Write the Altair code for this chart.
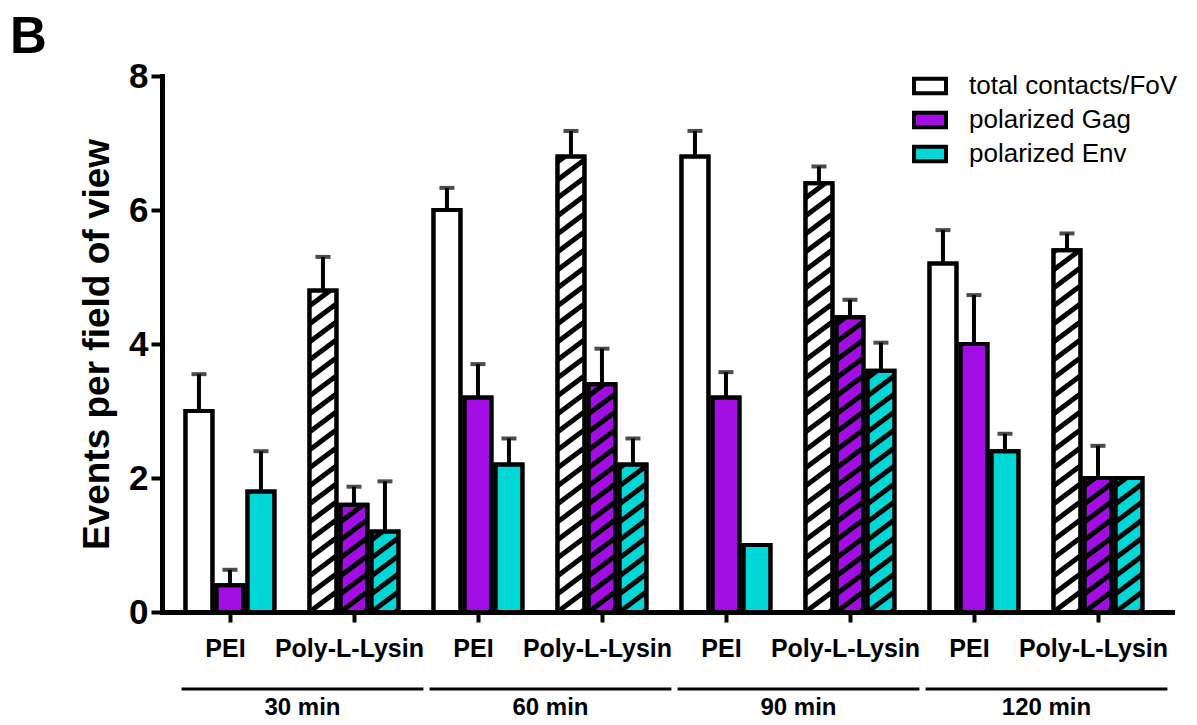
import altair as alt
import pandas as pd
import math

# ---------------- data ----------------
times = ["30 min", "60 min", "90 min", "120 min"]
coatings = ["PEI", "Poly-L-Lysin"]
series = ["total contacts/FoV", "polarized Gag", "polarized Env"]
colors = ["#FFFFFF", "#A10DE2", "#00D8D8"]

# categories in order: 30 PEI, 30 PLL, 60 PEI, 60 PLL, 90 PEI, 90 PLL, 120 PEI, 120 PLL
total_mean = [3.0, 4.8, 6.0, 6.8, 6.8, 6.4, 5.2, 5.4]
total_err = [0.55, 0.5, 0.33, 0.38, 0.38, 0.25, 0.5, 0.25]
gag_mean = [0.4, 1.6, 3.2, 3.4, 3.2, 4.4, 4.0, 2.0]
gag_err = [0.23, 0.27, 0.5, 0.53, 0.38, 0.26, 0.73, 0.48]
env_mean = [1.8, 1.2, 2.2, 2.2, 1.0, 3.6, 2.4, 2.0]
env_err = [0.6, 0.75, 0.39, 0.39, 0.0, 0.42, 0.26, 0.0]

# ---------------- layout ----------------
W, H = 1010, 536
XMIN, XMAX = -0.548, 7.597
YMAX = 8
PXX = W / (XMAX - XMIN)
PXY = H / YMAX
BAR_STEP = 31 / PXX
BAR_HALF = 13.5 / PXX
FONT = "Liberation Sans"

means = [total_mean, gag_mean, env_mean]
errs = [total_err, gag_err, env_err]
ncat = len(times) * len(coatings)

rows = []
for i in range(ncat):
    for j, s in enumerate(series):
        c = i + (j - 1) * BAR_STEP
        rows.append(dict(series=s, cat=i, center=c, x0=c - BAR_HALF, x1=c + BAR_HALF,
                         mean=means[j][i], err=errs[j][i], top=means[j][i] + errs[j][i],
                         base=0.0, hatched=(i % 2 == 1)))
bars = pd.DataFrame(rows)
errdf = bars[bars["err"] > 0]

# hatch segments derived from the hatched bars
P, SL = 18.0, 0.75
hrows = []
for r in rows:
    if not r["hatched"]:
        continue
    xl, xr = r["x0"] * PXX, r["x1"] * PXX
    hp = r["mean"] * PXY
    kmin = int(math.floor(-SL * (xr - xl) / P)) - 1
    kmax = int(math.ceil(hp / P)) + 1
    for k in range(kmin, kmax + 1):
        y0 = k * P
        xs = max(xl, xl + (0 - y0) / SL)
        xe = min(xr, xl + (hp - y0) / SL)
        if xe - xs > 0.5:
            hrows.append(dict(hx0=xs / PXX, hx1=xe / PXX,
                              hy0=(y0 + SL * (xs - xl)) / PXY,
                              hy1=(y0 + SL * (xe - xl)) / PXY))
hatch = pd.DataFrame(hrows)

groups = pd.DataFrame(dict(label=times,
                           gx0=[2 * g - 0.39 for g in range(len(times))],
                           gx1=[2 * g + 1.56 for g in range(len(times))]))
groups["gmid"] = (groups["gx0"] + groups["gx1"]) / 2

cat_labels = [coatings[i % 2] for i in range(ncat)]
label_expr = "[" + ",".join("'%s'" % c for c in cat_labels) + "][datum.value]"

xs_ = alt.Scale(domain=[XMIN, XMAX], nice=False, zero=False)
ys_ = alt.Scale(domain=[0, YMAX], nice=False)

xaxis = alt.Axis(values=list(range(ncat)), labelExpr=label_expr, title=None, grid=False,
                 labelFont=FONT, labelFontSize=25, labelFontWeight="bold",
                 labelPadding=14, labelOffset=-5, tickSize=10, tickWidth=4, domainWidth=5,
                 domainCap="square", labelFlush=False, labelOverlap=False, labelLimit=0)
yaxis = alt.Axis(values=[0, 2, 4, 6, 8], format="d", title="Events per field of view", grid=False,
                 titleFont=FONT, titleFontSize=37, titleFontWeight="bold", titlePadding=12,
                 labelFont=FONT, labelFontSize=35, labelFontWeight="bold", labelPadding=3,
                 tickSize=11, tickWidth=4, domainWidth=5, domainCap="square")

legend = alt.Legend(orient="none", legendX=750, legendY=-8, title=None,
                    symbolType="M-1,-0.45H1V0.45H-1Z", symbolSize=1024,
                    symbolStrokeColor="black", symbolStrokeWidth=4, symbolOpacity=1,
                    labelFont=FONT, labelFontSize=26, labelColor="black", labelLimit=0,
                    labelOffset=21, rowPadding=0, padding=0)

bar_layer = alt.Chart(bars).mark_rect(stroke="black", strokeWidth=4, opacity=1).encode(
    x=alt.X("x0:Q", scale=xs_, axis=xaxis),
    x2="x1:Q",
    y=alt.Y("mean:Q", scale=ys_, axis=yaxis),
    y2="base:Q",
    fill=alt.Fill("series:N", scale=alt.Scale(domain=series, range=colors), legend=legend),
)

hatch_layer = alt.Chart(hatch).mark_rule(color="black", strokeWidth=5, strokeCap="butt").encode(
    x=alt.X("hx0:Q", scale=xs_), x2="hx1:Q",
    y=alt.Y("hy0:Q", scale=ys_), y2="hy1:Q",
)

outline_layer = alt.Chart(bars).mark_rect(stroke="black", strokeWidth=4, fillOpacity=0).encode(
    x=alt.X("x0:Q", scale=xs_), x2="x1:Q",
    y=alt.Y("mean:Q", scale=ys_), y2="base:Q",
)

err_layer = alt.Chart(errdf).mark_rule(color="black", strokeWidth=4).encode(
    x=alt.X("center:Q", scale=xs_),
    y=alt.Y("mean:Q", scale=ys_), y2="top:Q",
)
cap_layer = alt.Chart(errdf).mark_tick(color="black", thickness=4, size=15, orient="horizontal").encode(
    x=alt.X("center:Q", scale=xs_),
    y=alt.Y("top:Q", scale=ys_),
)

group_lines = alt.Chart(groups).mark_rule(color="black", strokeWidth=3).encode(
    x=alt.X("gx0:Q", scale=xs_), x2="gx1:Q", y=alt.value(613),
)
group_text = alt.Chart(groups).mark_text(font=FONT, fontSize=24, fontWeight="bold",
                                          baseline="alphabetic", color="black").encode(
    x=alt.X("gmid:Q", scale=xs_), y=alt.value(639), text="label:N",
)

panel = alt.Chart(pd.DataFrame(dict(letter=["B"]))).mark_text(
    font=FONT, fontSize=51, fontWeight="bold", align="left", baseline="alphabetic", color="black"
).encode(x=alt.value(-152), y=alt.value(-23), text="letter:N")

chart = alt.layer(bar_layer, hatch_layer, outline_layer, err_layer, cap_layer,
                  group_lines, group_text, panel).properties(
    width=W, height=H,
    autosize=alt.AutoSizeParams(type="none"),
    padding={"left": 154, "top": 68, "right": 15, "bottom": 108},
).configure_view(stroke=None).configure_axis(
    domainColor="black", tickColor="black", labelColor="black", titleColor="black"
)

chart.save("out.html", embed_options={"renderer": "svg", "actions": False})
